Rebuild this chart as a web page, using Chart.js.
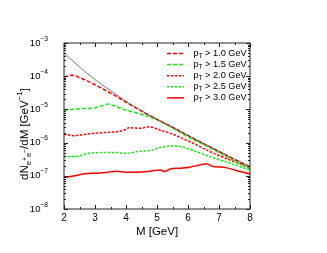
<!DOCTYPE html>
<html>
<head>
<meta charset="utf-8">
<script src="https://cdn.jsdelivr.net/npm/chart.js@4.4.0/dist/chart.umd.min.js"></script>
<style>
  body { margin: 0; background: #fff; }
  #wrap { width: 327px; height: 253px; }
</style>
</head>
<body>
<div id="wrap"><canvas id="chart"></canvas></div>
<script>
// axis ticks
const xTicks = [2, 3, 4, 5, 6, 7, 8];
const yExps = [-3, -4, -5, -6, -7, -8];

// thin black curve (all pT)
const mAll = [2, 2.5, 3, 3.5, 4, 4.5, 5, 5.5, 6, 6.5, 7, 7.5, 8];
const yAll = [5.0e-4, 1.9e-4, 7.9e-5, 3.7e-5, 1.75e-5, 9.1e-6, 5.1e-6, 2.95e-6, 1.66e-6, 9.5e-7, 5.5e-7, 3.2e-7, 1.9e-7];

// pT > 1.0 GeV
const m10 = [2, 2.25, 2.5, 2.75, 3, 3.5, 4, 4.5, 5, 5.5, 6, 6.5, 7, 7.5, 8];
const y10 = [9.5e-5, 1.07e-4, 9.1e-5, 7.2e-5, 5.5e-5, 3.1e-5, 1.66e-5, 8.9e-6, 5.0e-6, 2.9e-6, 1.62e-6, 9.3e-7, 5.4e-7, 3.1e-7, 1.86e-7];

// pT > 1.5 GeV
const m15 = [2, 2.5, 3, 3.25, 3.4, 3.6, 4, 4.5, 5, 5.5, 6, 6.5, 7, 7.5, 8];
const y15 = [9.5e-6, 1.05e-5, 1.12e-5, 1.32e-5, 1.45e-5, 1.29e-5, 9.5e-6, 7.1e-6, 4.9e-6, 2.75e-6, 1.5e-6, 8.7e-7, 5.0e-7, 2.8e-7, 1.62e-7];

// pT > 2.0 GeV
const m20 = [2, 2.35, 2.6, 2.85, 3.25, 3.7, 3.9, 4.1, 4.45, 4.75, 5.1, 5.4, 6.05, 6.7, 7.35, 8];
const y20 = [1.8e-6, 1.62e-6, 1.74e-6, 1.86e-6, 2.0e-6, 2.14e-6, 2.3e-6, 2.8e-6, 2.7e-6, 3.0e-6, 2.35e-6, 1.95e-6, 1.07e-6, 5.4e-7, 3.0e-7, 1.78e-7];

// pT > 2.5 GeV
const m25 = [2, 2.35, 2.8, 3.3, 3.7, 4.0, 4.45, 4.75, 5.1, 5.4, 5.75, 6.05, 6.7, 7.35, 8];
const y25 = [3.8e-7, 3.8e-7, 4.8e-7, 5.0e-7, 5.0e-7, 4.8e-7, 5.5e-7, 5.75e-7, 7.1e-7, 7.9e-7, 7.6e-7, 6.3e-7, 3.8e-7, 2.4e-7, 1.5e-7];

// pT > 3.0 GeV
const m30 = [2, 2.35, 2.65, 3.05, 3.35, 3.7, 4.0, 4.35, 4.7, 5.1, 5.25, 5.4, 5.75, 6.05, 6.4, 6.6, 6.8, 7.15, 7.55, 8];
const y30 = [8.9e-8, 1.0e-7, 1.15e-7, 1.2e-7, 1.26e-7, 1.38e-7, 1.29e-7, 1.29e-7, 1.35e-7, 1.5e-7, 1.35e-7, 1.58e-7, 1.7e-7, 1.82e-7, 2.14e-7, 2.3e-7, 1.9e-7, 1.82e-7, 1.45e-7, 1.15e-7];

const cuts = ['1.0', '1.5', '2.0', '2.5', '3.0'];

const RED = 'rgb(255,0,0)';
const GREEN = 'rgb(20,235,20)';
const FONT = '"Liberation Sans", Arial, sans-serif';

function pts(ms, ys) {
  return ms.map((m, i) => ({ x: m, y: ys[i] }));
}

function curve(label, ms, ys, color, dash, width) {
  return {
    label: label,
    data: pts(ms, ys),
    borderColor: color,
    backgroundColor: color,
    borderDash: dash,
    borderWidth: width,
    pointRadius: 0,
    cubicInterpolationMode: 'monotone',
    fill: false
  };
}

// parts: [text, level] level 0 = normal, -1 = subscript, 1 = superscript, -2 = small sign inside subscript
function fontFor(lv, size) {
  if (lv === -1 || lv === 1) return size * 0.7;
  if (lv === -2) return size * 0.55;
  return size;
}

function drawRich(ctx, parts, x, y, size, align) {
  let w = 0;
  parts.forEach(([t, lv]) => {
    ctx.font = fontFor(lv, size) + 'px ' + FONT;
    w += ctx.measureText(t).width;
  });
  let cx = align === 'center' ? x - w / 2 : align === 'right' ? x - w : x;
  ctx.textBaseline = 'middle';
  ctx.textAlign = 'left';
  parts.forEach(([t, lv]) => {
    let dy = 0;
    if (lv === -1) dy = size * 0.3;
    if (lv === 1) dy = -size * 0.45;
    ctx.font = fontFor(lv, size) + 'px ' + FONT;
    ctx.fillText(t, cx, y + dy);
    cx += ctx.measureText(t).width;
  });
}

const frame = {
  id: 'frame',
  afterDraw(chart) {
    const { ctx, chartArea: a, scales: { x, y } } = chart;
    ctx.save();
    ctx.strokeStyle = '#222';
    ctx.lineWidth = 1;
    ctx.strokeRect(a.left, a.top, a.right - a.left, a.bottom - a.top);

    ctx.beginPath();
    // x ticks, major on integers, minor on halves
    for (let v = 2; v <= 8; v += 0.5) {
      const px = Math.round(x.getPixelForValue(v)) + 0.5;
      const len = Number.isInteger(v) ? 4 : 2;
      ctx.moveTo(px, a.bottom); ctx.lineTo(px, a.bottom - len);
      ctx.moveTo(px, a.top); ctx.lineTo(px, a.top + len);
    }
    // y ticks, log decades plus minors
    yExps.forEach(e => {
      for (let k = 1; k <= 9; k++) {
        const v = k * Math.pow(10, e);
        if (v > 1.0001e-3) continue;
        const py = Math.round(y.getPixelForValue(v)) + 0.5;
        const len = k === 1 ? 4 : 2;
        ctx.moveTo(a.left, py); ctx.lineTo(a.left + len, py);
        ctx.moveTo(a.right, py); ctx.lineTo(a.right - len, py);
      }
    });
    ctx.stroke();

    ctx.fillStyle = '#000';
    // x tick labels
    ctx.font = '10px ' + FONT;
    ctx.textAlign = 'center';
    ctx.textBaseline = 'middle';
    xTicks.forEach(v => ctx.fillText(String(v), x.getPixelForValue(v), a.bottom + 9));
    // y tick labels
    yExps.forEach(e => {
      const py = y.getPixelForValue(Math.pow(10, e));
      drawRich(ctx, [['10', 0], ['\u2212' + (-e), 1]], a.left - 16, py, 9.5, 'right');
    });

    // x title
    ctx.font = '11.5px ' + FONT;
    ctx.textAlign = 'center';
    ctx.fillText('M [GeV]', (a.left + a.right) / 2, 232);

    // y title
    ctx.save();
    ctx.translate(25, 134);
    ctx.rotate(-Math.PI / 2);
    drawRich(ctx, [['dN', 0], ['e', -1], ['+', -2], ['e', -1], ['\u2212', -2], ['/dM [GeV', 0], ['\u22121', 1], [']', 0]], 0, 0, 11.5, 'center');
    ctx.restore();

    // legend inside the plot
    const ds = chart.data.datasets.slice(1);
    ds.forEach((d, i) => {
      const ly = 53.5 + i * 11.1;
      ctx.strokeStyle = d.borderColor;
      ctx.lineWidth = d.borderWidth;
      ctx.setLineDash(d.borderDash);
      ctx.beginPath();
      ctx.moveTo(167, ly); ctx.lineTo(184, ly);
      ctx.stroke();
      ctx.setLineDash([]);
      ctx.fillStyle = '#000';
      drawRich(ctx, [['p', 0], ['T', -1], [' > ' + cuts[i] + ' GeV', 0]], 193.5, ly, 9.2, 'left');
    });
    ctx.restore();
  }
};

new Chart(document.getElementById('chart'), {
  type: 'line',
  data: {
    datasets: [
      curve('all', mAll, yAll, '#555', [], 0.8),
      curve('pT > 1.0 GeV', m10, y10, RED, [4, 2], 1.5),
      curve('pT > 1.5 GeV', m15, y15, GREEN, [4, 2], 1.5),
      curve('pT > 2.0 GeV', m20, y20, RED, [2.5, 1.5], 1.5),
      curve('pT > 2.5 GeV', m25, y25, GREEN, [2.5, 1.5], 1.5),
      curve('pT > 3.0 GeV', m30, y30, RED, [], 1.5)
    ]
  },
  options: {
    responsive: true,
    maintainAspectRatio: false,
    animation: false,
    layout: { padding: { left: 64, right: 77, top: 43, bottom: 44 } },
    plugins: { legend: { display: false }, tooltip: { enabled: false } },
    scales: {
      x: { type: 'linear', min: 2, max: 8, display: false },
      y: { type: 'logarithmic', min: 1e-8, max: 1e-3, display: false }
    }
  },
  plugins: [frame]
});
</script>
</body>
</html>
